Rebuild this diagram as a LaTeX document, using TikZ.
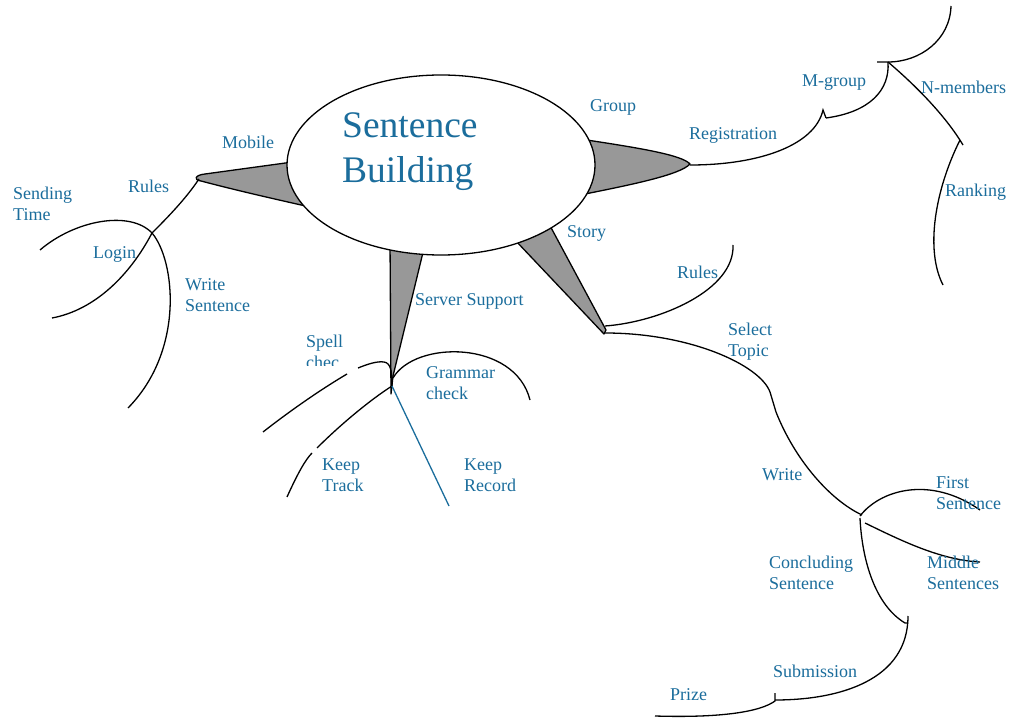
\documentclass[tikz,border=0pt]{standalone}
\usepackage{fontspec}
\setmainfont{Liberation Serif}
\usetikzlibrary{shapes.geometric}
\definecolor{lblue}{RGB}{27,109,156}
\definecolor{spikegray}{RGB}{152,152,152}
\tikzset{
  lbl/.style={anchor=north west, inner sep=0pt, text=lblue, font=\fontsize{18}{21}\selectfont, align=left},
  branch/.style={draw=black, line width=1.3pt},
  spike/.style={fill=spikegray, draw=black, line width=1.3pt, line join=round},
}
\begin{document}
\begin{tikzpicture}[x=1pt,y=-1pt]
\useasboundingbox (0,0) rectangle (1015,719);
% junction coordinates
\coordinate (mtip) at (199,179);
\coordinate (login) at (152,233);
\coordinate (rtip) at (690,165);
\coordinate (stip) at (391,390);
\coordinate (srv) at (392,386);
\coordinate (ytip) at (605,333);
\coordinate (wj) at (862,515);
\coordinate (mg) at (888,62);
% spikes
\path[spike] (300,161) -- (205,174) .. controls (195,175) and (193,180) .. (201,181) .. controls (235,190) and (270,198) .. (310,207) -- cycle;
\path[spike] (580,139) .. controls (640,148) and (682,155) .. (690,164) .. controls (680,175) and (630,185) .. (580,195) -- cycle;
\path[spike] (390,240) -- (391,394) -- (393,376) -- (426,240) -- cycle;
\path[spike] (515,240) -- (604,334) -- (606,330) -- (548,222) -- cycle;
% central ellipse
\node[ellipse, draw=black, fill=white, line width=1.3pt, minimum width=308pt, minimum height=180pt, inner sep=0pt] (center) at (441,165) {};
\node[anchor=north west, inner sep=0pt, text=lblue, font=\fontsize{37.5}{45}\selectfont, align=left] (title) at (342,112) {Sentence\\Building};
% left branch
\draw[branch] (40,250) .. controls (75,220) and (130,210) .. (login) .. controls (175,260) and (185,350) .. (128,408);
\draw[branch] (mtip) .. controls (185,200) and (165,220) .. (login) .. controls (130,275) and (95,310) .. (52,318);
% server branch
\draw[branch] (263,432) .. controls (295,407) and (325,387) .. (347,374);
\draw[branch] (358,368) .. controls (368,364) and (377,361) .. (384,362) .. controls (391,363) and (392,372) .. (srv);
\draw[branch] (287,497) .. controls (297,475) and (305,460) .. (312,453);
\draw[branch] (317,448) .. controls (340,425) and (370,400) .. (srv);
\draw[branch] (393,378) .. controls (415,340) and (515,340) .. (530,400);
\draw[draw=lblue, line width=1.3pt] (srv) -- (449,506);
% story branch
\draw[branch] (605,326) .. controls (660,322) and (735,290) .. (733,245);
\draw[branch] (ytip) .. controls (690,333) and (760,365) .. (770,392) -- (776,412) .. controls (795,460) and (830,500) .. (wj);
\draw[branch] (860,516) .. controls (880,490) and (930,475) .. (980,510);
\draw[branch] (865,523) .. controls (900,540) and (940,560) .. (980,562);
\draw[branch] (860,518) .. controls (862,560) and (875,605) .. (905,623) -- (908,623);
\draw[branch] (908,616) .. controls (908,680) and (840,700) .. (775,700);
\draw[branch] (775,693) -- (775,701) .. controls (760,712) and (720,718) .. (655,716);
% registration branch
\draw[branch] (rtip) .. controls (760,165) and (815,145) .. (823,110) -- (826,118);
\draw[branch] (826,118) .. controls (870,112) and (890,90) .. (mg);
\draw[branch] (877,62) -- (mg) .. controls (920,62) and (950,40) .. (951,6);
\draw[branch] (mg) .. controls (915,85) and (945,115) .. (963,145);
\draw[branch] (960,140) .. controls (935,190) and (925,250) .. (943,285);
% labels
\node[lbl] (lmobile) at (222,136) {Mobile};
\node[lbl] (lrules1) at (128,180) {Rules};
\node[lbl] (lsend) at (13,187) {Sending\\Time};
\node[lbl] (llogin) at (93,246) {Login};
\node[lbl] (lwrite1) at (185,278) {Write\\Sentence};
\begin{scope}
\clip (300,320) rectangle (370,366);
\node[lbl] (lspell) at (306,335) {Spell\\chec};
\end{scope}
\node[lbl] (lgram) at (426,366) {Grammar\\check};
\node[lbl] (ltrack) at (322,459) {Keep\\Track};
\node[lbl] (lrec) at (464,459) {Keep\\Record};
\node[lbl] (lserver) at (415,293) {Server Support};
\node[lbl] (lgroup) at (590,99) {Group};
\node[lbl] (lreg) at (689,127) {Registration};
\node[lbl] (lmgroup) at (802,75) {M-group};
\node[lbl] (lnmem) at (921,81) {N-members};
\node[lbl] (lrank) at (945,184) {Ranking};
\node[lbl] (lstory) at (567,225) {Story};
\node[lbl] (lrules2) at (677,266) {Rules};
\node[lbl] (lselect) at (728,323) {Select\\Topic};
\node[lbl] (lwrite2) at (762,468) {Write};
\node[lbl] (lfirst) at (936,476) {First\\Sentence};
\node[lbl] (lconc) at (769,556) {Concluding\\Sentence};
\node[lbl] (lmid) at (927,556) {Middle\\Sentences};
\node[lbl] (lsub) at (773,665) {Submission};
\node[lbl] (lprize) at (670,688) {Prize};
\end{tikzpicture}
\end{document}
